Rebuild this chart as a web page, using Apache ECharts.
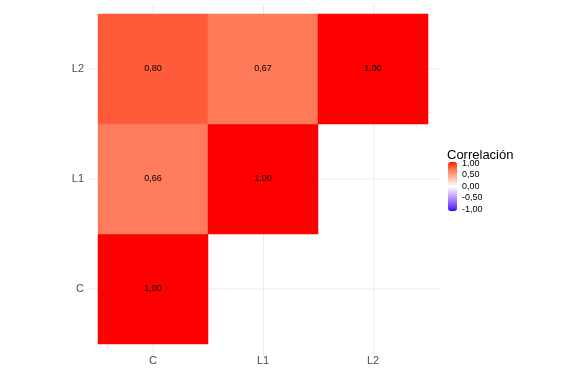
<!DOCTYPE html>
<html>
<head>
<meta charset="utf-8">
<script src="https://cdn.jsdelivr.net/npm/echarts@6/dist/echarts.min.js"></script>
<style>html,body{margin:0;padding:0;background:#fff;}#chart{width:575px;height:384px;}</style>
</head>
<body>
<div id="chart"></div>
<script>
const categories = ['C', 'L1', 'L2'];
const cellX = ['C', 'C', 'C', 'L1', 'L1', 'L2'];
const cellY = ['C', 'L1', 'L2', 'L1', 'L2', 'L2'];
const corr = [1.00, 0.66, 0.80, 1.00, 0.67, 1.00];
const legendTicks = [-1, -0.5, 0, 0.5, 1];
const legendTitle = 'Correlación';

// Lab interpolation helpers (like ggplot's scale_fill_gradient2)
function srgbToLin(c){c/=255;return c<=0.04045?c/12.92:Math.pow((c+0.055)/1.055,2.4);}
function linToSrgb(c){c=Math.max(0,Math.min(1,c));return Math.round(255*(c<=0.0031308?12.92*c:1.055*Math.pow(c,1/2.4)-0.055));}
function rgb2lab(r,g,b){
  const R=srgbToLin(r),G=srgbToLin(g),B=srgbToLin(b);
  let X=(0.4124*R+0.3576*G+0.1805*B)/0.95047,Y=(0.2126*R+0.7152*G+0.0722*B),Z=(0.0193*R+0.1192*G+0.9505*B)/1.08883;
  const f=t=>t>0.008856?Math.cbrt(t):(7.787*t+16/116);
  const fx=f(X),fy=f(Y),fz=f(Z);
  return [116*fy-16,500*(fx-fy),200*(fy-fz)];
}
function lab2hex(L,a,b){
  const fy=(L+16)/116,fx=fy+a/500,fz=fy-b/200;
  const fi=t=>t*t*t>0.008856?t*t*t:(t-16/116)/7.787;
  const X=fi(fx)*0.95047,Y=fi(fy),Z=fi(fz)*1.08883;
  const R=3.2406*X-1.5372*Y-0.4986*Z,G=-0.9689*X+1.8758*Y+0.0415*Z,B=0.0557*X-0.2040*Y+1.0570*Z;
  return '#'+[R,G,B].map(v=>linToSrgb(v).toString(16).padStart(2,'0')).join('');
}
const labBlue=rgb2lab(0,0,255),labWhite=rgb2lab(255,255,255),labRed=rgb2lab(255,0,0);
const rampColors=[];
const N=40;
for(let i=0;i<=N;i++){
  const t=-1+2*i/N;
  const from=t<0?labWhite:labWhite, to=t<0?labBlue:labRed, u=Math.abs(t);
  rampColors.push(lab2hex(from[0]+(to[0]-from[0])*u,from[1]+(to[1]-from[1])*u,from[2]+(to[2]-from[2])*u));
}

const heatData = corr.map((v,i)=>[categories.indexOf(cellX[i]), categories.indexOf(cellY[i]), v]);
const fmt = v => v.toFixed(2).replace('.', ',');
const font = 'Liberation Sans, Arial, Helvetica, sans-serif';

const chart = echarts.init(document.getElementById('chart'), null, {renderer:'canvas'});
chart.setOption({
  backgroundColor:'#ffffff',
  animation:false,
  title:{text:legendTitle,left:447,top:149,padding:0,textStyle:{fontSize:13,fontWeight:'normal',color:'#000',fontFamily:font}},
  grid:[
    {left:98,right:147,top:14,bottom:40},
    {left:87,right:135,top:3,bottom:29},
    {left:448,width:9,top:163.5,height:46}
  ],
  xAxis:[
    {type:'category',gridIndex:0,data:categories,axisLine:{show:false},axisTick:{show:false},splitLine:{show:false},
     axisLabel:{margin:11,fontSize:11,color:'#4d4d4d',fontFamily:font}},
    {type:'value',gridIndex:1,min:-0.6,max:2.6,show:false},
    {type:'value',gridIndex:2,min:0,max:1,show:false}
  ],
  yAxis:[
    {type:'category',gridIndex:0,data:categories,axisLine:{show:false},axisTick:{show:false},splitLine:{show:false},
     axisLabel:{margin:14,fontSize:11,color:'#4d4d4d',fontFamily:font}},
    {type:'value',gridIndex:1,min:-0.6,max:2.6,show:false},
    {type:'value',gridIndex:2,min:legendTicks[0],max:legendTicks[legendTicks.length-1],interval:0.5,position:'right',
     axisLine:{show:false},axisTick:{show:false},splitLine:{show:false},
     axisLabel:{margin:5,fontSize:9,color:'#000',fontFamily:font,formatter:v=>fmt(v)}}
  ],
  visualMap:{
    type:'continuous',min:-1,max:1,dimension:2,seriesIndex:1,orient:'vertical',
    left:448,top:162,itemWidth:9,itemHeight:49,padding:0,text:null,showLabel:false,calculable:false,hoverLink:false,
    inRange:{color:rampColors}
  },
  series:[
    {type:'custom',xAxisIndex:1,yAxisIndex:1,z:0,silent:true,data:categories.map((c,i)=>[i]),
     renderItem:function(params,api){
       const i=api.value(0), cs=params.coordSys, p=api.coord([i,i]);
       const st={stroke:'#ebebeb',lineWidth:1};
       return {type:'group',children:[
         {type:'line',shape:{x1:p[0],y1:cs.y,x2:p[0],y2:cs.y+cs.height},style:st},
         {type:'line',shape:{x1:cs.x,y1:p[1],x2:cs.x+cs.width,y2:p[1]},style:st}
       ]};
     }},
    {type:'heatmap',xAxisIndex:0,yAxisIndex:0,z:2,data:heatData,
     label:{show:true,fontSize:9,color:'#000',fontFamily:font,formatter:p=>fmt(p.value[2])},
     itemStyle:{borderWidth:0},emphasis:{disabled:true}}
  ]
});
</script>
</body>
</html>
